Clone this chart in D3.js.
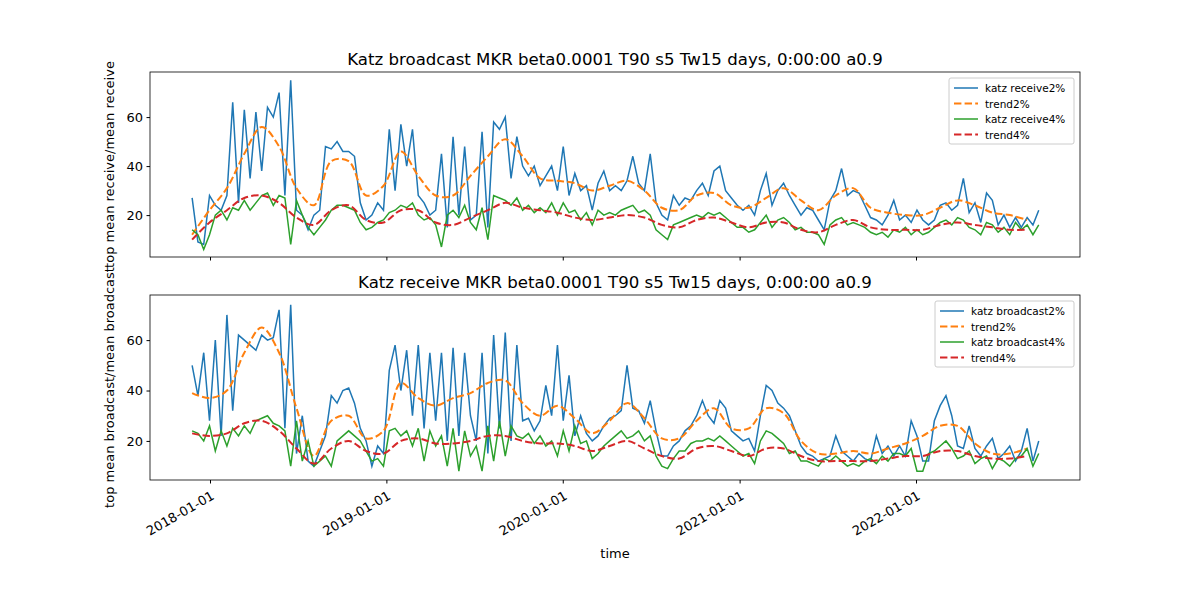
<!DOCTYPE html>
<html>
<head>
<meta charset="utf-8">
<script src="https://cdn.jsdelivr.net/npm/d3@7"></script>
<style>
  body { margin: 0; background: #fff; }
  text { font-family: "DejaVu Sans", sans-serif; }
</style>
</head>
<body>
<div id="chart"></div>
<script>
// series sampled every 12 days, trends every 36 days, starting at startDate
var startDate = new Date(2017, 10, 25);
var rawStep = 12;
var trendStep = 36;

var receive2 = [27,9,8,28,24,22,28,66,25,63,35,62,38,64,60,70,28,75,22,20,14,20,22,48,47,50,46,46,44,25,18,20,25,22,55,30,57,40,55,28,25,20,22,45,15,52,20,48,18,
  20,54,15,58,55,60,35,52,40,36,40,32,36,40,30,48,28,37,30,32,22,33,38,30,32,30,34,44,33,30,45,25,20,18,28,24,27,26,30,33,28,38,40,30,27,24,22,24,20,30,37,24,
  30,33,28,24,20,23,22,18,14,26,30,39,28,30,29,24,19,18,16,20,26,18,20,17,22,18,16,18,24,25,22,24,35,21,25,17,29,26,16,20,15,19,15,19,16,22];
var receive4 = [14,12,6,12,20,22,18,23,22,26,22,25,28,29,24,28,27,8,26,20,15,12,15,18,22,24,24,23,22,17,14,15,17,18,21,22,24,23,25,20,18,19,16,7,20,22,19,24,17,
  14,23,10,28,27,26,24,27,22,24,21,23,21,25,20,25,21,22,18,21,16,22,20,21,20,22,23,24,21,22,20,14,12,10,16,17,18,19,20,19,21,20,21,19,17,15,15,13,14,17,20,15,
  18,19,17,14,15,13,13,12,8,16,18,19,16,17,16,15,13,12,13,11,14,13,15,12,14,12,13,15,17,18,16,19,18,15,14,12,17,16,13,15,12,17,14,16,12,16];
var recTrend2 = [12,22,31,45,56,48,31,24,42,42,28,32,46,36,28,28,36,44,51,44,35,34,33,30,32,34,30,23,22,28,29,24,23,27,31,26,22,28,31,23,21,20,20,23,26,24,21,20,18];
var recTrend4 = [10,17,22,27,28,25,19,16,22,24,18,17,22,22,17,16,19,22,25,23,22,21,19,18,19,20,19,16,15,18,19,17,15,17,17,14,13,16,18,15,14,14,14,16,17,16,15,14,14];

var broadcast2 = [50,38,55,28,60,22,70,32,62,60,58,56,62,60,61,72,25,74,15,30,12,10,16,22,38,35,40,41,35,25,20,10,18,15,48,58,40,56,30,58,25,55,28,55,20,57,22,55,30,
  20,55,15,62,25,63,20,58,28,29,24,28,42,30,58,28,46,22,30,23,20,22,26,29,30,32,50,33,32,27,36,24,14,14,18,20,24,26,30,36,30,27,36,33,24,22,20,21,16,30,42,40,
  35,33,30,24,18,15,14,12,13,14,22,16,14,12,15,13,12,22,15,18,14,18,14,28,22,12,12,28,34,38,30,18,17,26,17,14,18,21,13,15,18,12,16,25,12,20];
var broadcast4 = [24,23,20,26,16,24,18,25,22,26,23,28,29,30,27,26,24,10,28,12,20,10,12,14,10,20,22,24,22,20,16,12,13,10,24,25,22,24,18,25,12,24,18,22,10,25,8,24,14,
  18,8,26,12,28,14,26,22,21,23,19,22,18,20,14,24,16,26,19,20,13,15,18,20,22,24,21,22,24,20,22,14,10,9,13,16,16,19,20,20,21,20,22,20,18,16,14,15,11,20,24,23,
  21,19,15,16,12,12,11,10,13,12,14,12,10,11,10,12,13,11,14,12,15,15,14,17,8,8,15,16,18,20,17,13,14,16,11,13,14,9,13,12,10,13,14,17,10,15];
var brTrend2 = [39,37,40,55,65,55,33,14,28,30,21,24,43,37,34,37,39,43,44,35,30,34,29,23,28,35,29,21,21,28,33,25,25,33,31,20,15,15,16,15,17,19,22,26,26,19,15,15,17];
var brTrend4 = [23,22,23,27,28,24,17,11,17,20,16,15,20,21,19,19,20,22,22,20,19,19,18,16,18,20,17,14,13,17,18,16,14,17,17,14,12,12,12,12,13,14,14,16,16,14,13,13,14];

var yTicks = [20, 40, 60];
var yearTicks = [2018, 2019, 2020, 2021, 2022];

var width = 1200, height = 600;
var svg = d3.select('#chart').append('svg').attr('width', width).attr('height', height);

var x = d3.scaleTime()
  .domain([new Date(2018, 0, 1), new Date(2022, 0, 1)])
  .range([210, 916]);
var tickDates = yearTicks.map(function (y) { return new Date(y, 0, 1); });

function toPoints(values, step) {
  return values.map(function (v, i) { return { d: d3.timeDay.offset(startDate, i * step), v: v }; });
}

function panel(top, bottom, ydom, title, ylabel, series, legendW, showX) {
  var y = d3.scaleLinear().domain(ydom).range([bottom, top]);
  var g = svg.append('g');
  g.append('defs').append('clipPath').attr('id', 'clip' + top)
    .append('rect').attr('x', 150).attr('y', top).attr('width', 930).attr('height', bottom - top);

  series.forEach(function (s) {
    var line = d3.line()
      .x(function (p) { return x(p.d); })
      .y(function (p) { return y(p.v); })
      .curve(s.dash ? d3.curveCatmullRom : d3.curveLinear);
    g.append('path')
      .datum(toPoints(s.values, s.step))
      .attr('clip-path', 'url(#clip' + top + ')')
      .attr('fill', 'none')
      .attr('stroke', s.color)
      .attr('stroke-width', s.dash ? 2 : 1.5)
      .attr('stroke-dasharray', s.dash ? '7.4,3.2' : null)
      .attr('d', line);
  });

  g.append('rect').attr('x', 150).attr('y', top).attr('width', 930).attr('height', bottom - top)
    .attr('fill', 'none').attr('stroke', '#000').attr('stroke-width', 0.8);

  var ya = g.append('g').attr('transform', 'translate(150,0)')
    .call(d3.axisLeft(y).tickValues(yTicks).tickSize(3.5).tickPadding(3.5));
  ya.select('.domain').remove();
  ya.selectAll('text').attr('font-size', 13).attr('font-family', 'DejaVu Sans').attr('fill', '#000');

  var xa = g.append('g').attr('transform', 'translate(0,' + bottom + ')')
    .call(d3.axisBottom(x).tickValues(tickDates).tickSize(3.5).tickFormat(showX ? d3.timeFormat('%Y-%m-%d') : ''));
  xa.select('.domain').remove();
  if (showX) {
    xa.selectAll('text')
      .attr('font-size', 13).attr('font-family', 'DejaVu Sans').attr('fill', '#000')
      .attr('text-anchor', 'end').attr('dy', null).attr('y', 0)
      .attr('transform', 'translate(0,10) rotate(-30)')
      .attr('dominant-baseline', 'hanging');
  }

  g.append('text').attr('x', 615).attr('y', top - 7).attr('text-anchor', 'middle')
    .attr('font-size', 16.6).text(title);
  g.append('text').attr('transform', 'translate(114,' + ((top + bottom) / 2) + ') rotate(-90)')
    .attr('text-anchor', 'middle').attr('font-size', 13).text(ylabel);

  // legend
  var lx = 1074 - legendW, ly = top + 6;
  var lg = g.append('g');
  lg.append('rect').attr('x', lx).attr('y', ly).attr('width', legendW).attr('height', 66)
    .attr('fill', '#fff').attr('stroke', '#ccc').attr('rx', 2);
  series.forEach(function (s, i) {
    var yy = ly + 10 + i * 15.5;
    lg.append('line').attr('x1', lx + 5).attr('x2', lx + 29).attr('y1', yy).attr('y2', yy)
      .attr('stroke', s.color).attr('stroke-width', s.dash ? 2 : 1.5)
      .attr('stroke-dasharray', s.dash ? '7.4,3.2' : null);
    lg.append('text').attr('x', lx + 36).attr('y', yy + 4).attr('font-size', 10.5).text(s.name);
  });
}

panel(72, 257, [2.9, 78.4], 'Katz broadcast MKR beta0.0001 T90 s5 Tw15 days, 0:00:00 a0.9',
  'top mean receive/mean receive', [
    { name: 'katz receive2%', values: receive2, step: rawStep, color: '#1f77b4' },
    { name: 'trend2%', values: recTrend2, step: trendStep, color: '#ff7f0e', dash: true },
    { name: 'katz receive4%', values: receive4, step: rawStep, color: '#2ca02c' },
    { name: 'trend4%', values: recTrend4, step: trendStep, color: '#d62728', dash: true }
  ], 125, false);

panel(295, 480, [4.5, 77.9], 'Katz receive MKR beta0.0001 T90 s5 Tw15 days, 0:00:00 a0.9',
  'top mean broadcast/mean broadcast', [
    { name: 'katz broadcast2%', values: broadcast2, step: rawStep, color: '#1f77b4' },
    { name: 'trend2%', values: brTrend2, step: trendStep, color: '#ff7f0e', dash: true },
    { name: 'katz broadcast4%', values: broadcast4, step: rawStep, color: '#2ca02c' },
    { name: 'trend4%', values: brTrend4, step: trendStep, color: '#d62728', dash: true }
  ], 139, true);

svg.append('text').attr('x', 615).attr('y', 558).attr('text-anchor', 'middle')
  .attr('font-size', 13).text('time');
</script>
</body>
</html>
